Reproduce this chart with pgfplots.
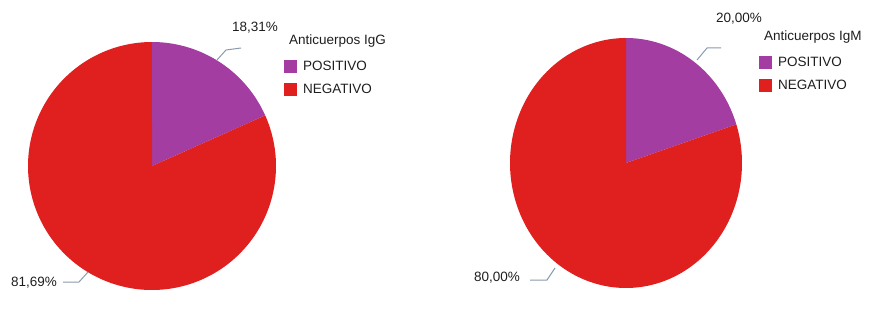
\documentclass[border=0pt]{standalone}
\usepackage{pgfplots}
\pgfplotsset{compat=1.18}
\usepackage{fontspec}
\setmainfont{Liberation Sans}
\definecolor{pos}{HTML}{A43DA2}
\definecolor{neg}{HTML}{E0201E}
\definecolor{lead}{HTML}{8A9AAE}
\definecolor{txt}{HTML}{1E1E1E}
\begin{document}
\begin{tikzpicture}
\pgfplotsset{
  frame/.style={width=879pt,height=332pt,scale only axis,
    xmin=0,xmax=879,ymin=0,ymax=332,y dir=reverse,hide axis,clip=false,
    legend cell align=left,
    legend style={draw=none,fill=none,inner sep=0pt,row sep=8pt,
      nodes={inner xsep=6pt},
      font=\fontsize{13.5}{15}\selectfont\color{txt}},
    legend image code/.code={\fill[##1] (0pt,-6.5pt) rectangle (13pt,6.5pt);}},
}
% ---------- IgG ----------
\def\cxA{152}\def\cyA{166}\def\rxA{124}\def\ryA{124}
\def\posA{18.31}\def\negA{81.69}
\pgfmathsetmacro{\angA}{\posA*3.6}
\begin{axis}[frame,legend style={at={(axis cs:284,59)},anchor=north west}]
\addplot[fill=pos,draw=none,domain=-\angA/60:\angA,samples=62,variable=\t]
  ({\t<0 ? \cxA : \cxA+\rxA*sin(\t)},{\t<0 ? \cyA : \cyA-\ryA*cos(\t)});
\addlegendentry{POSITIVO}
\addplot[fill=neg,draw=none,domain=\angA-(360-\angA)/200:360,samples=202,variable=\t]
  ({\t<\angA ? \cxA : \cxA+\rxA*sin(\t)},{\t<\angA ? \cyA : \cyA-\ryA*cos(\t)});
\addlegendentry{NEGATIVO}
\node[anchor=west,font=\fontsize{13.5}{15}\selectfont,text=txt,inner sep=0pt] at (axis cs:289,41) {Anticuerpos IgG};
\node[anchor=west,font=\fontsize{13.5}{15}\selectfont,text=txt,inner sep=0pt] at (axis cs:232,28) {18,31\%};
\node[anchor=west,font=\fontsize{13.5}{15}\selectfont,text=txt,inner sep=0pt] at (axis cs:11,283) {81,69\%};
\draw[lead,line width=1pt] (axis cs:217,60) -- (axis cs:226,50) -- (axis cs:241,48);
\draw[lead,line width=1pt] (axis cs:63,282) -- (axis cs:79,282) -- (axis cs:88,272);
\end{axis}
% ---------- IgM ----------
\def\cxB{626}\def\cyB{163}\def\rxB{116}\def\ryB{125}
\def\posB{20.00}\def\negB{80.00}
\pgfmathsetmacro{\angB}{\posB*3.6}
\begin{axis}[frame,legend style={at={(axis cs:759,55)},anchor=north west}]
\addplot[fill=pos,draw=none,domain=-\angB/60:\angB,samples=62,variable=\t]
  ({\t<0 ? \cxB : \cxB+\rxB*sin(\t)},{\t<0 ? \cyB : \cyB-\ryB*cos(\t)});
\addlegendentry{POSITIVO}
\addplot[fill=neg,draw=none,domain=\angB-(360-\angB)/200:360,samples=202,variable=\t]
  ({\t<\angB ? \cxB : \cxB+\rxB*sin(\t)},{\t<\angB ? \cyB : \cyB-\ryB*cos(\t)});
\addlegendentry{NEGATIVO}
\node[anchor=west,font=\fontsize{13.5}{15}\selectfont,text=txt,inner sep=0pt] at (axis cs:764,37) {Anticuerpos IgM};
\node[anchor=west,font=\fontsize{13.5}{15}\selectfont,text=txt,inner sep=0pt] at (axis cs:716,19) {20,00\%};
\node[anchor=west,font=\fontsize{13.5}{15}\selectfont,text=txt,inner sep=0pt] at (axis cs:474,278) {80,00\%};
\draw[lead,line width=1pt] (axis cs:697,60) -- (axis cs:707,48) -- (axis cs:721,48);
\draw[lead,line width=1pt] (axis cs:530,280) -- (axis cs:547,280) -- (axis cs:555,268);
\end{axis}
\useasboundingbox (0,0) rectangle (879pt,332pt);
\end{tikzpicture}
\end{document}
